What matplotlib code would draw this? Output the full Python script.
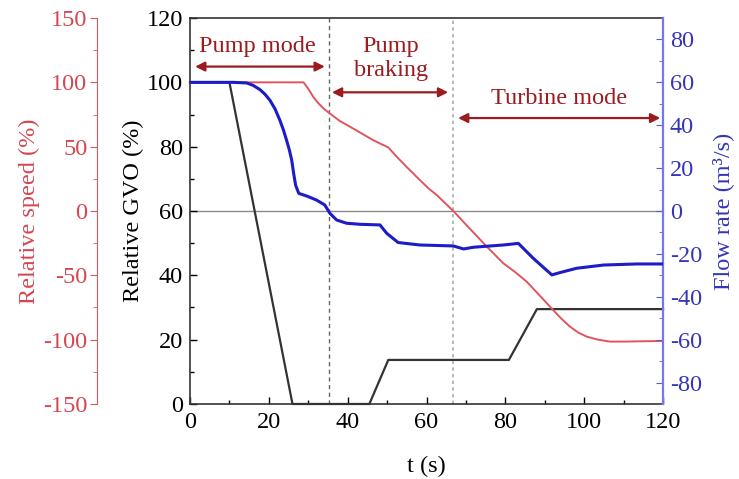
import numpy as np
import matplotlib
matplotlib.use("Agg")
import matplotlib.pyplot as plt
from matplotlib.ticker import MultipleLocator

plt.rcParams['font.family'] = ['Liberation Serif', 'DejaVu Serif']
plt.rcParams['axes.unicode_minus'] = False

# guide vane opening (%)
t_gvo = [0, 10, 26, 45.5, 50.3, 80.9, 88.0, 120]
gvo = [100, 100, 0, 0, 13.7, 13.7, 29.5, 29.5]

# relative rotational speed (%)
t_speed = [0, 28.8, 30, 31.3, 32.5, 33.9, 35.5, 38, 41.4, 46.5, 50.3, 52.5,
           54.9, 58.3, 60.5, 62.6, 66.8, 71, 75.3, 79.5, 82.5, 85.4, 88.5,
           92.1, 94.3, 96.4, 98.5, 100.6, 103.5, 106.5, 110, 120]
speed = [100, 100, 95, 88.6, 84, 79.6, 75.7, 70, 64.1, 55, 49.4, 42,
         34.4, 24.1, 17.6, 12.4, 0, -13.8, -27.7, -40.7, -47.5, -54.9, -65,
         -76.9, -84, -89.9, -94.5, -97.6, -100, -101.5, -101.5, -101]

# flow rate (m3/s)
t_flow = [0, 11, 14.4, 16, 17.75, 19, 20.3, 21.6, 22.8, 23.7, 24.5, 25.2,
          25.8, 26.3, 26.8, 27.6, 29.6, 32.1, 34.2, 35.5, 37.2, 39.7, 43.1,
          48.2, 49.9, 52.8, 58.3, 66.8, 69.4, 71.9, 79.5, 83.3, 87.1, 91.8,
          93.9, 98.1, 104.9, 113.3, 120]
flow = [60, 60, 59.7, 58.6, 56.6, 54.5, 51.6, 47.5, 42.3, 37.8, 33, 28.5,
        23.7, 17.5, 12.0, 8.2, 7, 5.1, 2.8, -1.1, -4.2, -5.7, -6.2,
        -6.5, -10.4, -14.7, -15.85, -16.3, -17.7, -16.9, -15.85, -15.1, -22.1, -29.8,
        -28.7, -26.7, -25.2, -24.7, -24.7]

# stage boundaries (s)
t_stage = [35.3, 66.8]

red = '#e0555c'
red_txt = '#d64550'
dark_red = '#9b1b1f'
blue = '#1c1cc8'
blue_txt = '#3535b8'
fs = 17.5

fig = plt.figure(figsize=(7.39, 4.79), dpi=100)
ax = fig.add_axes([0.2571, 0.1566, 0.6401, 0.8058])

ax.axhline(60, color='#8a8a8a', lw=1.0, zorder=1)
ax.axvline(t_stage[0], color='#666666', lw=1.0, ls=(0, (3, 2.5)), zorder=1)
ax.axvline(t_stage[1], color='#aab0aa', lw=1.2, ls=(0, (2, 2)), zorder=1)
ax.plot(t_gvo, gvo, color='#333333', lw=1.6, clip_on=False, zorder=3)

ax.set_xlim(0, 120)
ax.set_ylim(0, 120)
ax.xaxis.set_major_locator(MultipleLocator(20))
ax.xaxis.set_minor_locator(MultipleLocator(10))
ax.yaxis.set_major_locator(MultipleLocator(20))
ax.yaxis.set_minor_locator(MultipleLocator(10))
ax.tick_params(which='both', direction='in', labelsize=fs, pad=5)
ax.tick_params(which='major', length=5, width=1)
ax.tick_params(which='minor', length=2.8, width=1)
ax.tick_params(axis='x', pad=6)
ax.set_xlabel('t (s)', fontsize=fs)
ax.xaxis.set_label_coords(0.5, -0.135)
ax.set_ylabel('Relative GVO (%)', fontsize=fs)
ax.yaxis.set_label_coords(-0.097, 0.5)
for s in ['top', 'left', 'bottom']:
    ax.spines[s].set_color('#333333')
    ax.spines[s].set_linewidth(1.2)
ax.spines['right'].set_visible(False)

# relative speed on an offset left axis
ax_sp = ax.twinx()
ax_sp.plot(t_speed, speed, color=red, lw=1.4, zorder=4)
ax_sp.set_ylim(-150, 150)
ax_sp.spines['left'].set_position(('axes', -0.1966))
ax_sp.spines['left'].set_visible(True)
ax_sp.spines['left'].set_color(red)
for s in ['right', 'top', 'bottom']:
    ax_sp.spines[s].set_visible(False)
ax_sp.yaxis.set_ticks_position('left')
ax_sp.yaxis.set_label_position('left')
ax_sp.yaxis.set_major_locator(MultipleLocator(50))
ax_sp.yaxis.set_minor_locator(MultipleLocator(25))
ax_sp.tick_params(which='both', direction='out', colors=red, labelcolor=red_txt,
                  labelsize=fs, pad=2)
ax_sp.tick_params(which='major', length=5)
ax_sp.tick_params(which='minor', length=2.8)
ax_sp.set_ylabel('Relative speed (%)', color=red_txt, fontsize=fs)
ax_sp.yaxis.set_label_coords(-0.317, 0.5)

# flow rate on the right axis
ax_fl = ax.twinx()
ax_fl.plot(t_flow, flow, color=blue, lw=2.2, zorder=5)
ax_fl.set_ylim(-90, 90)
for s in ['left', 'top', 'bottom']:
    ax_fl.spines[s].set_visible(False)
ax_fl.spines['right'].set_color('#7676ee')
ax_fl.spines['right'].set_linewidth(1.6)
ax_fl.yaxis.set_major_locator(MultipleLocator(20))
ax_fl.yaxis.set_minor_locator(MultipleLocator(10))
ax_fl.tick_params(which='both', direction='in', colors='#5a5ad8', labelcolor=blue_txt,
                  labelsize=fs, pad=5)
ax_fl.tick_params(which='major', length=5)
ax_fl.tick_params(which='minor', length=2.8)
ax_fl.set_ylabel('Flow rate (m³/s)', color=blue_txt, fontsize=fs)
ax_fl.yaxis.set_label_coords(1.104, 0.5)

# operating stage annotations
arrow = dict(arrowstyle='<|-|>', color=dark_red, lw=1.6, mutation_scale=14,
             shrinkA=0, shrinkB=0)
ax.annotate('', xy=(1.3, 104.9), xytext=(34.2, 104.9), arrowprops=arrow)
ax.annotate('', xy=(36.0, 96.9), xytext=(65.5, 96.9), arrowprops=arrow)
ax.annotate('', xy=(68.0, 88.9), xytext=(119.3, 88.9), arrowprops=arrow,
            annotation_clip=False)
ax.text(17.1, 111.1, 'Pump mode', color=dark_red, fontsize=fs, ha='center', va='center')
ax.text(51.0, 107.3, 'Pump\nbraking', color=dark_red, fontsize=fs, ha='center',
        va='center', linespacing=1.2)
ax.text(93.5, 95.0, 'Turbine mode', color=dark_red, fontsize=fs, ha='center', va='center')

fig.savefig('out.png', dpi=100)
